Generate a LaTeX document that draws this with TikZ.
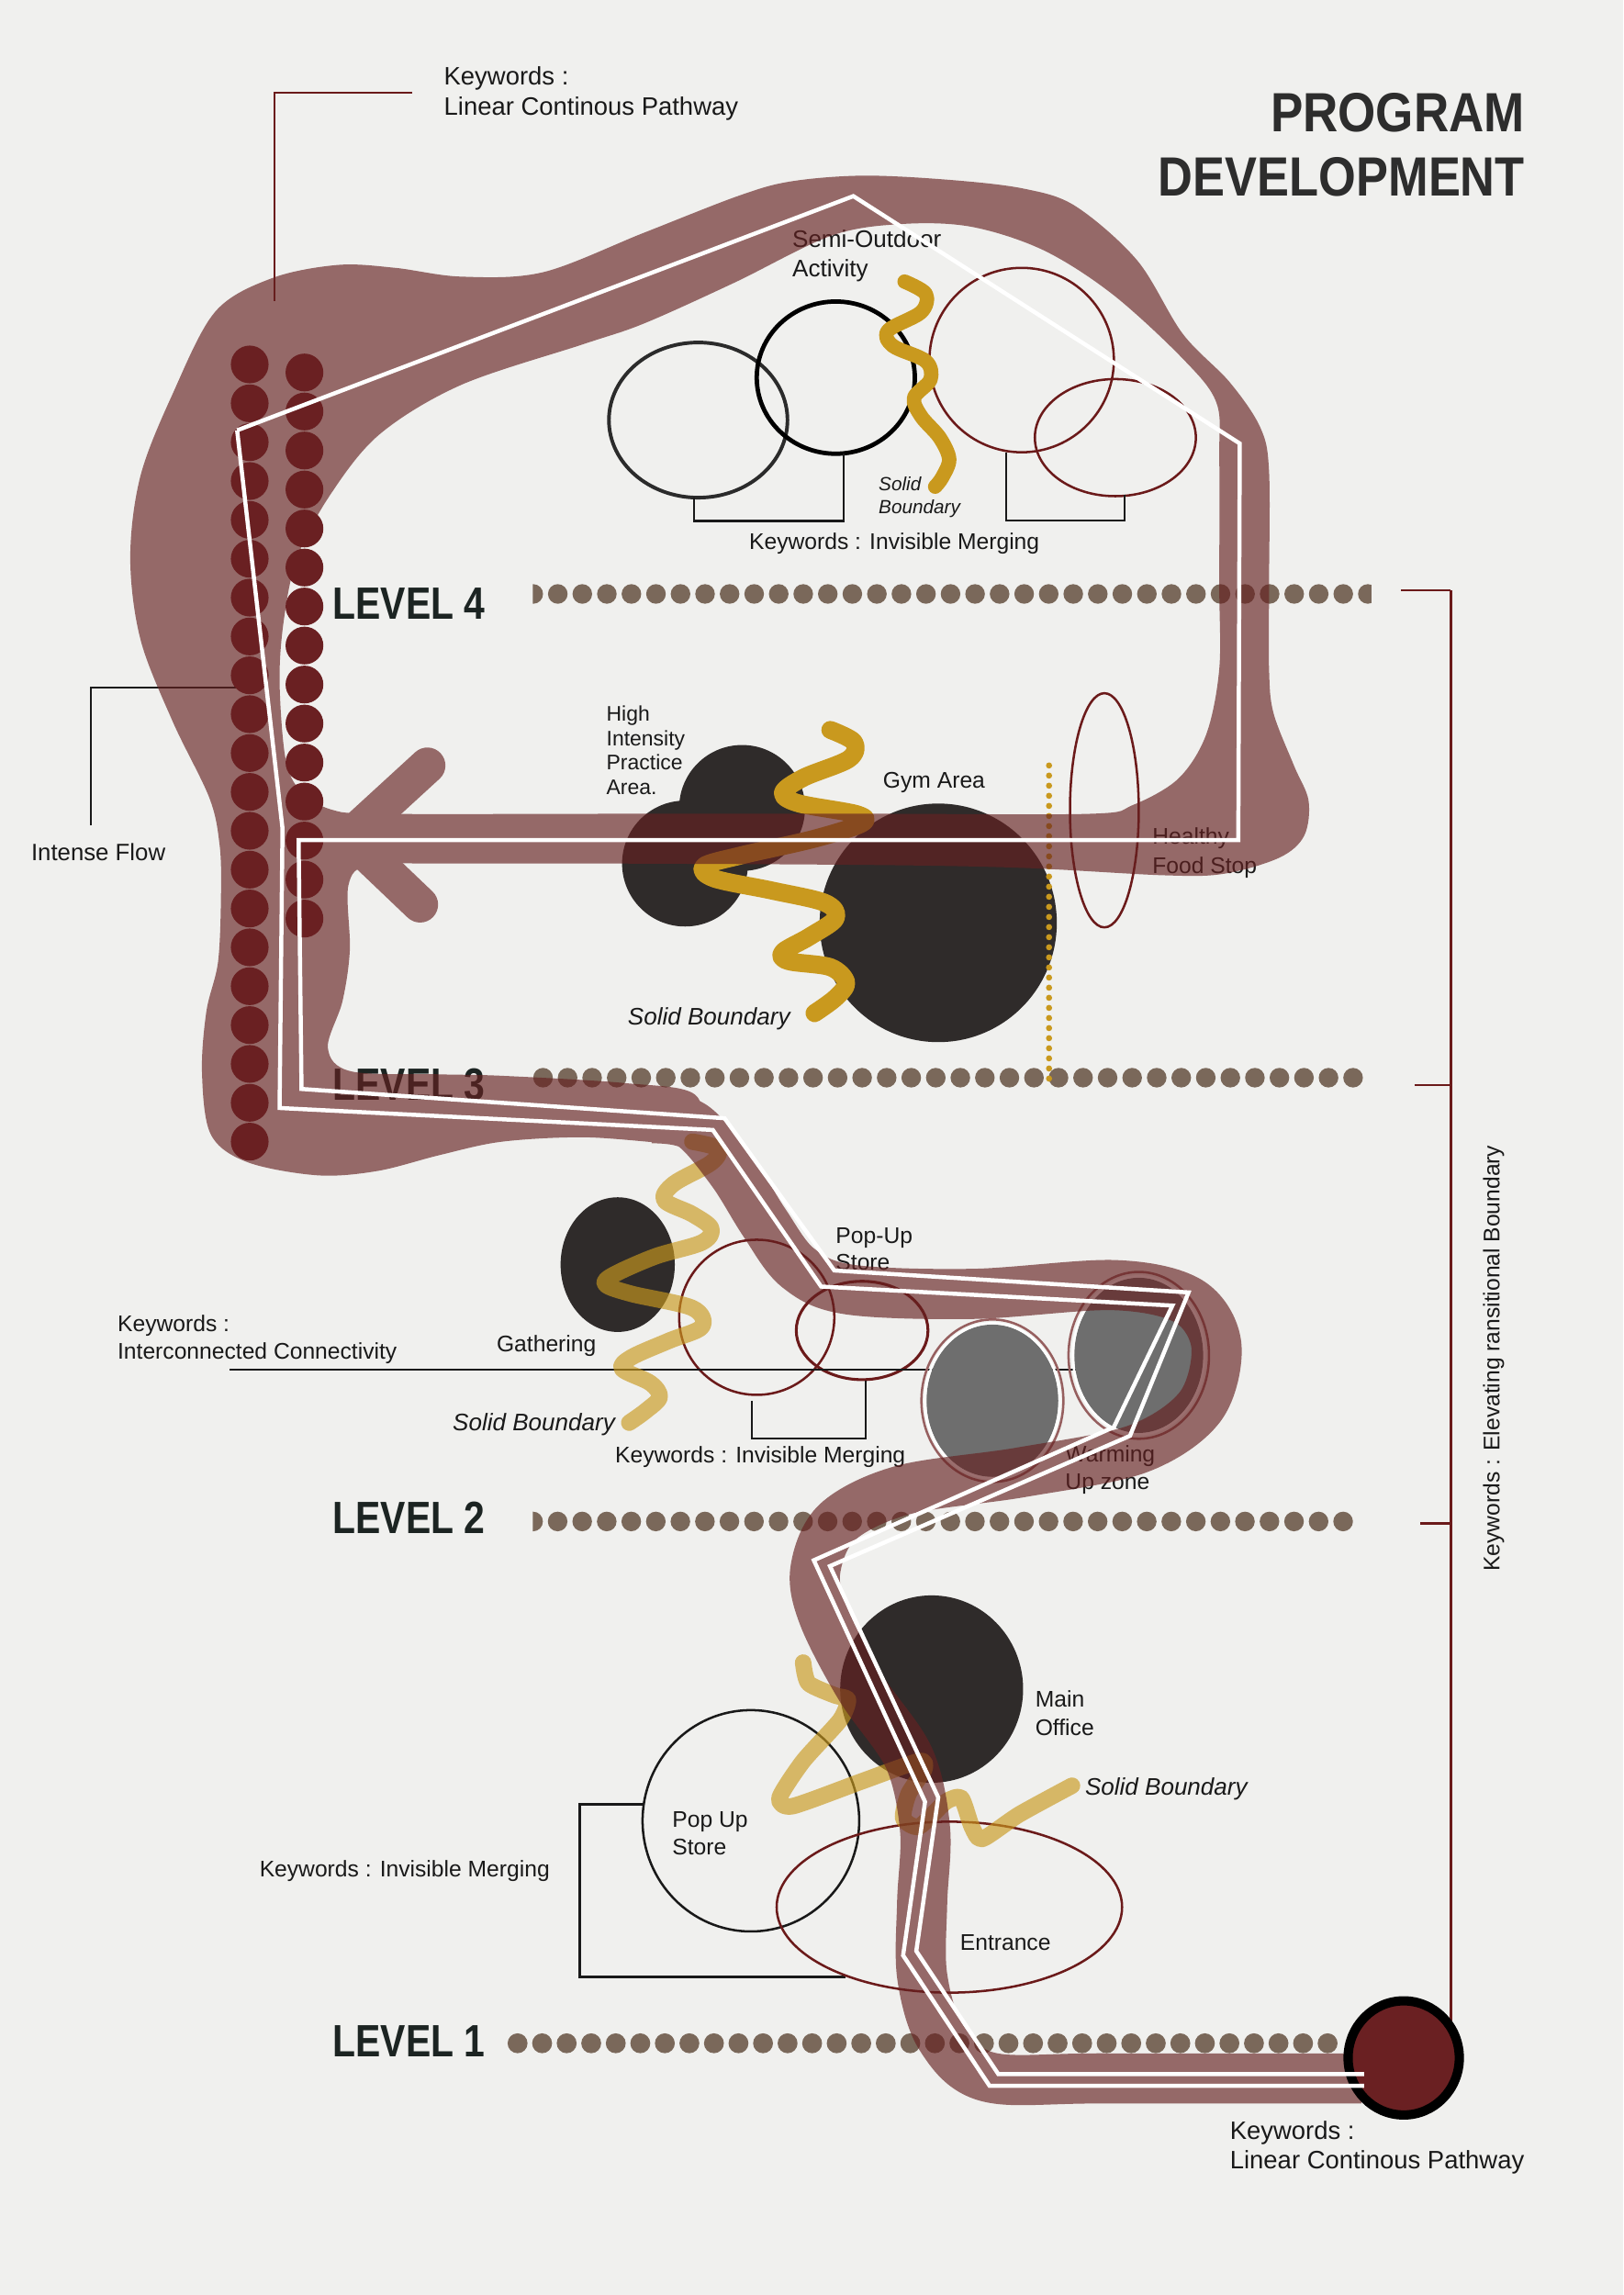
\documentclass[tikz,border=0pt]{standalone}
\usepackage{fontspec}
\setmainfont{Liberation Sans}
\definecolor{bgc}{RGB}{240,240,238}
\definecolor{bandc}{RGB}{101,33,33}
\definecolor{dotred}{RGB}{106,32,34}
\definecolor{levdot}{RGB}{122,104,90}
\definecolor{charc}{RGB}{47,43,42}
\definecolor{goldc}{RGB}{201,153,30}
\definecolor{maroonl}{RGB}{107,26,26}
\definecolor{grayf}{RGB}{110,110,110}
\definecolor{ringc}{RGB}{150,95,95}
\definecolor{txt}{RGB}{25,25,25}
\definecolor{titlec}{RGB}{45,45,45}
\definecolor{levc}{RGB}{28,36,34}
\begin{document}
\begin{tikzpicture}[x=0.02cm,y=-0.02cm,
  lbl/.style={inner sep=0pt, anchor=base west, text=txt, font=\fontsize{8.8}{10}\selectfont},
  bigl/.style={lbl, font=\fontsize{9.8}{11}\selectfont},
  ital/.style={lbl, font=\fontsize{9.3}{10}\selectfont\itshape},
  lev/.style={inner sep=0pt, anchor=base west, text=levc, font=\fontsize{17.6}{20}\selectfont\bfseries},
  ttl/.style={inner sep=0pt, anchor=base east, text=titlec, font=\fontsize{21.5}{24}\selectfont\bfseries},
  thinblack/.style={draw=txt, line width=0.8pt},
  mline/.style={draw=maroonl, line width=0.9pt},
  goldline/.style={draw=goldc, line cap=round, line join=round},
  wline/.style={draw=white, line width=1.6pt, line join=miter}
]
\fill[bgc] (0,0) rectangle (1109,1568);
\useasboundingbox (0,0) rectangle (1109,1568);

% ---------- annotation lines ----------
\coordinate (kwA) at (281.5,63.5);
\coordinate (kwB) at (187.4,63.5);
\coordinate (kwC) at (187.4,206);
\draw[mline, line width=0.7pt] (kwA) -- (kwB) -- (kwC);
\coordinate (ifA) at (62,564);
\coordinate (ifB) at (62,470);
\coordinate (ifC) at (177,470);
\draw[thinblack] (ifA) -- (ifB) -- (ifC);

% ---------- level dot rows ----------
\begin{scope}
\clip (364,390) rectangle (937,420);
\foreach \k in {0,...,34} \fill[levdot] ({364.3+\k*16.77},405.8) circle[radius=6.7];
\end{scope}
\foreach \k in {0,...,33} \fill[levdot] ({371+\k*16.77},736.3) circle[radius=6.7];
\begin{scope}
\clip (364,1025) rectangle (937,1055);
\foreach \k in {0,...,33} \fill[levdot] ({364.2+\k*16.77},1039.5) circle[radius=6.7];
\end{scope}
\foreach \k in {0,...,33} \fill[levdot] ({353.6+\k*16.77},1396) circle[radius=6.8];

% ---------- top section ----------
\draw[draw={rgb,255:red,43;green,43;blue,43}, line width=1.4pt] (477,287) ellipse[x radius=61, y radius=53];
\draw[draw=black, line width=1.7pt] (571,258) ellipse[x radius=54, y radius=52];
\draw[mline] (698,246) ellipse[x radius=63, y radius=63];
\draw[mline] (762,299) ellipse[x radius=55, y radius=40];
\draw[thinblack] (474,340) -- (474,356) -- (576.5,356) -- (576.5,310);
\draw[thinblack] (687.6,309) -- (687.6,355.6) -- (768.5,355.6) -- (768.5,338);
\draw[goldline, line width=5.6pt] plot[smooth, tension=0.55] coordinates {(618,192.4) (632.5,200.8) (629.3,213.3) (606.8,225.8) (610,236.3) (632.5,246.7) (635.7,259.3) (624.5,271.8) (629.3,284.4) (642,299) (648.5,313.7) (643.7,326.2) (638.9,332.5)};

% ---------- middle (level 3) section ----------
\fill[charc] (507,552) circle[radius=43];
\fill[charc] (468,590) circle[radius=43];
\fill[charc] (641,630.5) ellipse[x radius=81, y radius=81.5];
\foreach \k in {0,...,31} \fill[goldc] (716.7,{523+\k*6.9}) circle[radius=2.1];
\draw[mline] (754.5,553.6) ellipse[x radius=23.5, y radius=80];
\draw[goldline, line width=7pt] plot[smooth, tension=0.55] coordinates {(567.3,498.7) (583.5,507.1) (579.9,518.6) (549.2,531.2) (534.9,541.6) (545.7,548.9) (585.3,556.3) (588.9,562.5) (556.5,573) (506,584.5) (480.9,591.8) (488,600.2) (527.7,608.5) (563.7,616.9) (570.9,627.4) (552.9,640) (534.9,650.4) (538.5,656.6) (567.3,660.8) (578.1,671.3) (570.9,681.7) (556.5,692.2)};

% ---------- level 2 section ----------
\fill[charc] (422,864) ellipse[x radius=39, y radius=46];
\draw[mline] (517,900) circle[radius=53];
\draw[mline, line width=1.1pt] (589,909) ellipse[x radius=45, y radius=33.6];
\draw[thinblack] (513.7,957) -- (513.7,983) -- (591.5,983) -- (591.5,943);
\coordinate (icA) at (157,936);
\coordinate (icB) at (782,936);
\draw[thinblack] (icA) -- (icB);
\fill[grayf] (678,957) ellipse[x radius=45, y radius=52];
\draw[white, line width=0.9pt] (678,957) ellipse[x radius=46, y radius=53];
\draw[ringc, line width=0.9pt] (678,957) ellipse[x radius=48.5, y radius=55.5];
\fill[grayf] (778,926) ellipse[x radius=44, y radius=53];
\draw[white, line width=0.9pt] (778,926) ellipse[x radius=45, y radius=54];
\draw[ringc, line width=0.9pt] (778,926) ellipse[x radius=48, y radius=57];
\draw[goldline, line width=6.4pt, opacity=0.65] plot[smooth, tension=0.55] coordinates {(473,780) (490.6,784.8) (485.9,794.4) (460.3,808.8) (453.9,820) (473.1,829.6) (485.9,839.3) (479.5,848.9) (447.5,858.5) (418.6,871.3) (413.9,877.7) (431.5,884) (473.1,893.7) (479.5,906.5) (457.1,916) (431.5,927.3) (425.1,935.3) (444.3,944.9) (450.7,954.5) (441.1,964) (429.9,972)};

% ---------- level 1 section ----------
\fill[charc] (636.5,1154) ellipse[x radius=62.5, y radius=64];
\draw[draw=txt, line width=0.9pt] (513,1244) ellipse[x radius=74, y radius=75.6];
\draw[thinblack] (440,1232.8) -- (396,1232.8) -- (396,1350.7) -- (577.5,1350.7);
\draw[mline] (648.6,1303) ellipse[x radius=118, y radius=58.4];
\draw[goldline, line width=6.4pt, opacity=0.65] plot[smooth, tension=0.4] coordinates {(548.7,1135.9) (552.3,1150) (570.3,1158.3) (579.3,1161.2) (573.9,1175.2) (548.7,1203.2) (532.5,1228.4) (541.5,1234) (588.3,1217.2) (627.9,1203.2) (631.5,1208.8) (620.7,1225.6) (617.1,1242.4) (627.9,1248) (645.9,1231.2) (656.7,1228.4) (663.9,1248) (671.1,1256.4) (696.4,1239.6) (732.4,1220)};

% ---------- texts ----------
\node[bigl] (kwtop1) at (303,58) {Keywords :};
\node[bigl] (kwtop2) at (303,79) {Linear Continous Pathway};
\node[ttl] (title1) at (1042,90) {\scalebox{0.88}[1]{PROGRAM}};
\node[ttl] (title2) at (1042,134) {\scalebox{0.87}[1]{DEVELOPMENT}};
\node[lbl, font=\fontsize{9.3}{10}\selectfont] (semi1) at (541,169) {Semi-Outdoor};
\node[lbl, font=\fontsize{9.3}{10}\selectfont] (semi2) at (541,189) {Activity};
\node[lbl, font=\fontsize{7.4}{8}\selectfont\itshape] (sb1a) at (600,335) {Solid};
\node[lbl, font=\fontsize{7.4}{8}\selectfont\itshape] (sb1b) at (600,351) {Boundary};
\node[lbl, anchor=base] (im1) at (611,375.5) {Keywords : Invisible Merging};
\node[lev] (lev4) at (227,423) {\scalebox{0.83}[1]{LEVEL 4}};
\node[lbl, font=\fontsize{8.2}{9}\selectfont] (hi1) at (414,492.5) {High};
\node[lbl, font=\fontsize{8.2}{9}\selectfont] (hi2) at (414,509.5) {Intensity};
\node[lbl, font=\fontsize{8.2}{9}\selectfont] (hi3) at (414,526) {Practice};
\node[lbl, font=\fontsize{8.2}{9}\selectfont] (hi4) at (414,543) {Area.};
\node[lbl] (gym) at (603,538.5) {Gym Area};
\node[lbl] (hf1) at (787,576.5) {Healthy};
\node[lbl] (hf2) at (787,596.5) {Food Stop};
\node[lbl, font=\fontsize{9.2}{10}\selectfont] (intense) at (21,588) {Intense Flow};
\node[ital] (sb2) at (428.6,700) {Solid Boundary};
\node[lev] (lev3) at (227,752) {\scalebox{0.83}[1]{LEVEL 3}};
\node[lbl] (pu1) at (570.7,849.5) {Pop-Up};
\node[lbl] (pu2) at (570.7,868) {Store};
\node[lbl] (ic1) at (80,909.5) {Keywords :};
\node[lbl] (ic2) at (80,928.5) {Interconnected Connectivity};
\node[lbl] (gath) at (339,923.5) {Gathering};
\node[ital] (sb3) at (309,977.5) {Solid Boundary};
\node[lbl] (im2) at (420,999.5) {Keywords : Invisible Merging};
\node[lbl] (wu1) at (727.5,998.5) {Warming};
\node[lbl] (wu2) at (727.5,1017.5) {Up zone};
\node[lev] (lev2) at (227,1048) {\scalebox{0.83}[1]{LEVEL 2}};
\node[lbl] (mo1) at (707,1166.5) {Main};
\node[lbl] (mo2) at (707,1185.5) {Office};
\node[ital] (sb4) at (741,1226.5) {Solid Boundary};
\node[lbl] (ps1) at (459,1248.5) {Pop Up};
\node[lbl] (ps2) at (459,1267.5) {Store};
\node[lbl] (im3) at (177,1282.5) {Keywords : Invisible Merging};
\node[lbl] (ent) at (655.6,1332.5) {Entrance};
\node[lev] (lev1) at (227,1405) {\scalebox{0.83}[1]{LEVEL 1}};
\node[bigl] (kwb1) at (840,1461.5) {Keywords :};
\node[bigl] (kwb2) at (840,1481.5) {Linear Continous Pathway};
\node[inner sep=0pt, text=txt, font=\fontsize{8.8}{10}\selectfont, rotate=90] (elev) at (1020.5,928) {Keywords : Elevating ransitional Boundary};

% ---------- band (pathway) ----------
\begin{scope}[transparency group, opacity=0.65]
\fill[bandc, even odd rule]
  plot[smooth cycle, tension=0.55] coordinates {(186,190) (231,181) (270,183) (315,189) (371,186) (440,159) (504,134) (540,124) (590,120) (650,123) (700,129) (735,141) (777,178) (808,228) (840,261) (861,292) (867,322) (867,400) (867,457) (870,487) (884,523) (894,547) (891,571) (874,586) (836,597) (795,598) (700,593) (600,591) (420,590) (300,590) (252,591) (238,605) (239,649) (234,684) (224,716) (240,732) (300,734) (343,735) (427,740) (475,748) (478,781) (455,781) (399,777) (343,780) (301,789) (258,800) (217,803) (169,794) (144,775) (138,733) (141,691) (149,657) (151,610) (150,577) (143,545) (118,493) (96,437) (89,381) (96,325) (118,269) (147,213)}
  plot[smooth cycle, tension=0.55] coordinates {(502,193) (568,161) (617,153) (664,155) (713,171) (760,201) (808,245) (831,275) (833,313) (833,400) (833,457) (824,502) (805,532) (774,550) (745,556) (600,556) (420,556) (262,556) (226,553) (205,540) (195,518) (191,465) (194,423) (203,381) (225,339) (259,297) (315,263) (399,235) (440,221)};
\draw[bandc, line width=14pt, line cap=round] (244,567) -- (292,523);
\draw[bandc, line width=14pt, line cap=round] (244,577) -- (287,618);
\draw[bandc, line width=19.5pt, line cap=butt, line join=round] plot[smooth, tension=0.55] coordinates {(445,764) (473,769) (500,800) (522,835) (545,866) (580,881) (665,884) (761,878) (812,889) (831,919) (820,961) (777,990) (697,1006) (617,1018) (572,1040) (557,1073) (563,1105) (588,1153) (621,1201) (632,1250) (630,1300) (630,1350) (643,1392) (675,1419) (754,1420) (930,1420)};
\end{scope}

% ---------- left dot columns ----------
\foreach \k in {0,...,20} \fill[dotred] (170.6,{249+\k*26.55}) circle[radius=12.9];
\foreach \k in {0,...,14} \fill[dotred] (208,{254.5+\k*26.65}) circle[radius=12.9];

% ---------- right bracket ----------
\coordinate (rbTop) at (991.2,403.5);
\coordinate (rbBot) at (991.2,1385);
\draw[maroonl, line width=1.1pt] (rbTop) -- (rbBot);
\draw[maroonl, line width=0.8pt] (957.3,403.5) -- (rbTop);
\draw[maroonl, line width=0.8pt] (966.5,741.5) -- (991.2,741.5);
\draw[maroonl, line width=0.8pt] (970.3,1040.8) -- (991.2,1040.8);

% ---------- end circle ----------
\filldraw[fill=dotred, draw=black, line width=3.6pt] (959,1406) ellipse[x radius=38, y radius=39];
\node[inner sep=0pt, minimum size=0pt] (endc) at (959,1406) {};

% ---------- white route lines ----------
\draw[wline] (932,1417) -- (682,1417) -- (626,1333) -- (641,1228) -- (567,1070) -- (772,981) -- (812,883) -- (570,868) -- (495,764) -- (206,744) -- (204,574) -- (846,574) -- (847,303) -- (583,134) -- (162,294);
\draw[wline] (932,1425) -- (676,1425) -- (617,1336) -- (632,1231) -- (556,1066) -- (761,975) -- (801,892) -- (561,879) -- (487,772) -- (191,757) -- (193,566) -- (162,294);
\end{tikzpicture}
\end{document}
